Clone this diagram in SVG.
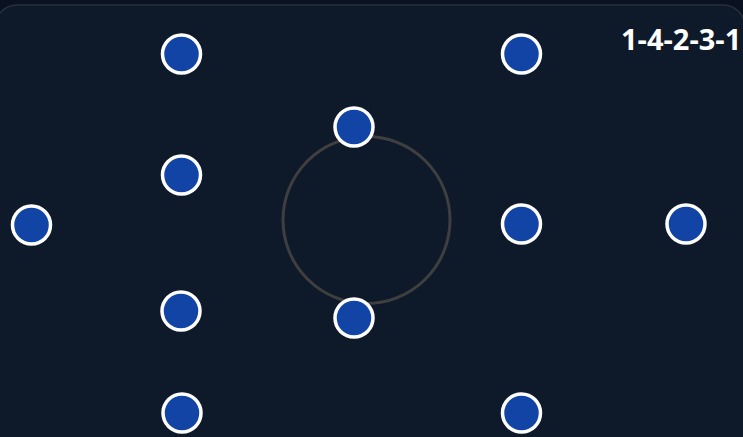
<svg xmlns="http://www.w3.org/2000/svg" width="743" height="437" viewBox="0 0 743 437">
<style>
.p{fill:#1244a6;stroke:#ffffff;stroke-width:3.5}
.lbl{font-family:"Open Sans","Noto Sans",sans-serif;font-weight:700;font-size:29px;fill:#ffffff}
</style>
<rect x="0" y="0" width="743" height="437" fill="#0a1120"/>
<rect x="-5" y="5" width="750" height="450" rx="22" fill="#0e1a2a" stroke="#27303d" stroke-width="1.5"/>
<g id="connectors">
<circle cx="366.5" cy="220" r="83.5" fill="none" stroke="#3f3f3f" stroke-width="3"/>
</g>
<g id="n1"><circle class="p" cx="181.5" cy="54" r="19"/></g>
<g id="n2"><circle class="p" cx="521.5" cy="54" r="19"/></g>
<g id="n3"><circle class="p" cx="354" cy="127" r="19"/></g>
<g id="n4"><circle class="p" cx="181.5" cy="175" r="19"/></g>
<g id="n5"><circle class="p" cx="31.5" cy="225" r="19"/></g>
<g id="n6"><circle class="p" cx="521.5" cy="224" r="19"/></g>
<g id="n7"><circle class="p" cx="686" cy="224" r="19"/></g>
<g id="n8"><circle class="p" cx="181" cy="311" r="19"/></g>
<g id="n9"><circle class="p" cx="354" cy="318" r="19"/></g>
<g id="n10"><circle class="p" cx="182" cy="413" r="19"/></g>
<g id="n11"><circle class="p" cx="521.5" cy="413" r="19"/></g>
<g id="label"><text class="lbl" x="621" y="50">1-4-2-3-1</text></g>
</svg>
